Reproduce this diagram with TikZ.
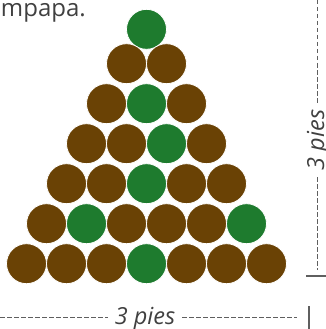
\documentclass[tikz,border=0pt]{standalone}
\usepackage{fontspec}
\setmainfont{Open Sans}
\usepackage{tikz}
\definecolor{beadbrown}{RGB}{106,66,5}
\definecolor{beadgreen}{RGB}{30,123,46}
\definecolor{textgray}{RGB}{64,64,64}
\definecolor{linegray}{RGB}{95,95,95}
\tikzset{
	bead/.style={circle, minimum size=40pt, inner sep=0pt, draw=white, line width=0.8pt},
	brownbead/.style={bead, fill=beadbrown},
	greenbead/.style={bead, fill=beadgreen},
	dimlabel/.style={color=textgray, font=\fontsize{23.5}{28}\selectfont\itshape, inner xsep=7pt, inner ysep=0pt},
	dimline/.style={color=linegray, line width=1.3pt, dash pattern=on 4.5pt off 2.5pt},
	tickline/.style={color=linegray, line width=1.7pt}
}

\begin{document}
\begin{tikzpicture}[x=1pt, y=-1pt]
		\useasboundingbox (0, 0) rectangle (326, 329);

		\node[anchor=base east, color=textgray, font=\fontsize{24}{29}\selectfont, inner sep=0pt] at (86, 17) (title) {mpapa.};

		% row 1
		\node[greenbead] at (146.5, 29.3) (b11) {};
		% row 2
		\node[brownbead] at (126.5, 63.7) (b21) {};
		\node[brownbead] at (166.5, 63.7) (b22) {};
		% row 3
		\node[brownbead] at (106.5, 103.7) (b31) {};
		\node[greenbead] at (146.5, 103.7) (b32) {};
		\node[brownbead] at (186.5, 103.7) (b33) {};
		% row 4
		\node[brownbead] at (86.5, 143.7) (b41) {};
		\node[brownbead] at (126.5, 143.7) (b42) {};
		\node[greenbead] at (166.5, 143.7) (b43) {};
		\node[brownbead] at (206.5, 143.7) (b44) {};
		% row 5
		\node[brownbead] at (66.5, 183.7) (b51) {};
		\node[brownbead] at (106.5, 183.7) (b52) {};
		\node[greenbead] at (146.5, 183.7) (b53) {};
		\node[brownbead] at (186.5, 183.7) (b54) {};
		\node[brownbead] at (226.5, 183.7) (b55) {};
		% row 6
		\node[brownbead] at (46.5, 223.7) (b61) {};
		\node[greenbead] at (86.5, 223.7) (b62) {};
		\node[brownbead] at (126.5, 223.7) (b63) {};
		\node[brownbead] at (166.5, 223.7) (b64) {};
		\node[brownbead] at (206.5, 223.7) (b65) {};
		\node[greenbead] at (246.5, 223.7) (b66) {};
		% row 7
		\node[brownbead] at (26.5, 263.7) (b71) {};
		\node[brownbead] at (66.5, 263.7) (b72) {};
		\node[brownbead] at (106.5, 263.7) (b73) {};
		\node[greenbead] at (146.5, 263.7) (b74) {};
		\node[brownbead] at (186.5, 263.7) (b75) {};
		\node[brownbead] at (226.5, 263.7) (b76) {};
		\node[brownbead] at (266.5, 263.7) (b77) {};

		% height
		\coordinate (vtop) at (317.5, 0);
		\coordinate (vbot) at (317.5, 270);
		\node[dimlabel, rotate=90, anchor=base] at (324, 140) (vlabel) {3 pies};
		\draw[dimline] (vtop) -- (vtop |- vlabel.east);
		\draw[dimline] (vbot |- vlabel.west) -- (vbot);
		\coordinate (vtickl) at (306, 275.7);
		\coordinate (vtickr) at (326, 275.7);
		\draw[tickline] (vtickl) -- (vtickr);

		% width
		\coordinate (hleft) at (0, 317.5);
		\coordinate (hright) at (296.5, 317.5);
		\node[dimlabel, anchor=base] at (145, 324.5) (hlabel) {3 pies};
		\draw[dimline] (hleft) -- (hleft -| hlabel.west);
		\draw[dimline] (hright -| hlabel.east) -- (hright);
		\coordinate (htickt) at (309, 306);
		\coordinate (htickb) at (309, 329);
		\draw[tickline] (htickt) -- (htickb);
	\end{tikzpicture}
\end{document}
